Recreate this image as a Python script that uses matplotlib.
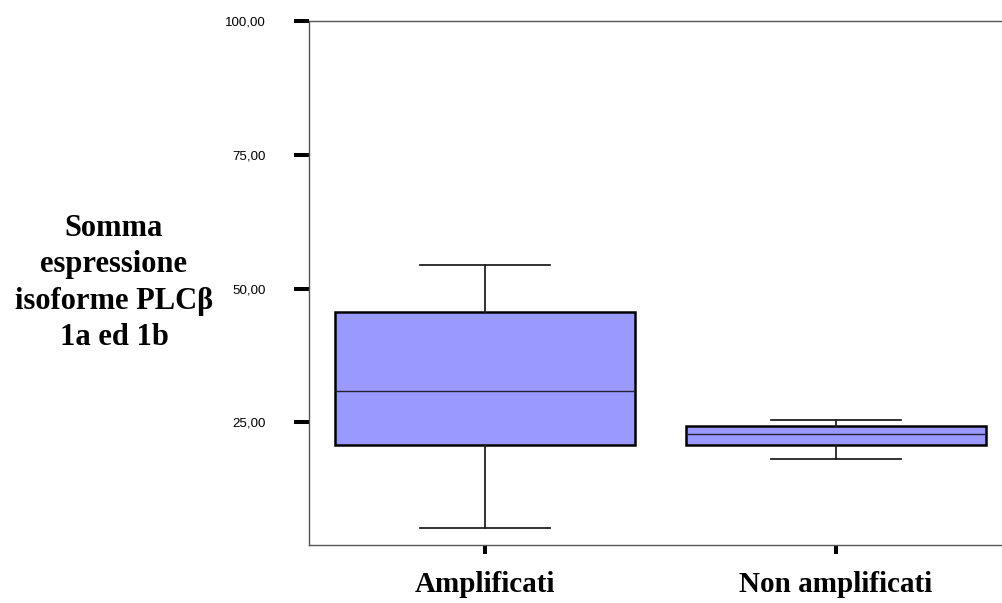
import matplotlib
matplotlib.use("Agg")
import matplotlib.pyplot as plt
from matplotlib.ticker import FuncFormatter

categories = ["Amplificati", "Non amplificati"]
whisker_low = [5.3, 18.2]
q1 = [20.7, 20.7]
median = [30.8, 22.9]
q3 = [45.6, 24.4]
whisker_high = [54.4, 25.5]
yticks = [25, 50, 75, 100]
ylabel = "Somma\nespressione\nisoforme PLCβ\n1a ed 1b"

W, H = 1003, 603
fig = plt.figure(figsize=(W / 100, H / 100), dpi=100)
left, right, top, bottom = 309.5, 1011.5, 21, 545
ax = fig.add_axes([left / W, (H - bottom) / H, (right - left) / W, (bottom - top) / H])

stats = []
for i, c in enumerate(categories):
    stats.append(dict(label=c, whislo=whisker_low[i], q1=q1[i], med=median[i],
                      q3=q3[i], whishi=whisker_high[i], fliers=[]))

ax.bxp(stats, positions=[1, 2], widths=0.855, capwidths=0.37, patch_artist=True,
       showfliers=False,
       boxprops=dict(facecolor="#9999ff", edgecolor="black", linewidth=1.8),
       medianprops=dict(color="#222233", linewidth=1.0),
       whiskerprops=dict(color="#222222", linewidth=1.3),
       capprops=dict(color="#222222", linewidth=1.3))

ax.set_xlim(0.5, 2.5)
ax.set_ylim(2.1, 100)
ax.set_yticks(yticks)
ax.yaxis.set_major_formatter(FuncFormatter(lambda v, p: f"{v:.2f}".replace(".", ",")))
ax.set_xticks([1, 2])
ax.set_xticklabels(categories, family="Liberation Serif", fontweight="bold", fontsize=21)

for s in ["left", "top", "bottom"]:
    ax.spines[s].set_color("#555555")
    ax.spines[s].set_linewidth(1.0)
ax.spines["right"].set_visible(False)

ax.tick_params(axis="y", direction="out", length=10.8, width=2.9, color="black",
               pad=21, labelsize=9.6)
for lab in ax.get_yticklabels():
    lab.set_family("Liberation Sans")
ax.tick_params(axis="x", direction="out", length=6.5, width=2.9, color="black", pad=12)

fig.text(114 / W, 1 - 283 / H, ylabel, family="Liberation Serif", fontweight="bold",
         fontsize=22, ha="center", va="center", linespacing=1.32)

fig.savefig("out.png", dpi=100)
